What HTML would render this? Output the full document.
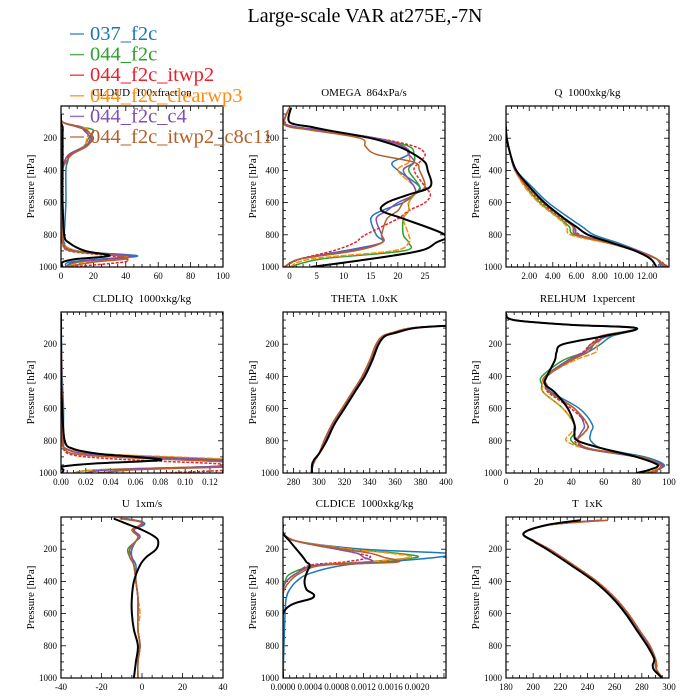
<!DOCTYPE html>
<html><head><meta charset="utf-8">
<style>
html,body{margin:0;padding:0;background:#fff;}
svg{display:block;font-family:"Liberation Serif",serif;}
text{white-space:pre;}
</style></head>
<body>
<svg id="chart" width="700" height="700" viewBox="0 0 700 700">
<text x="365" y="22" font-size="20" text-anchor="middle">Large-scale VAR at275E,-7N</text>
<g id="panels"></g>
<g id="legend"></g>
</svg>
<script>
const seriesNames=["037_f2c","044_f2c","044_f2c_itwp2","044_f2c_clearwp3","044_f2c_c4","044_f2c_itwp2_c8c11","obs"];
const seriesColors=["#1f77b4","#2ca02c","#e8222a","#ff8c10","#8050b0","#b5602a","#000000"];

// CLOUD
const cloudP=[50,100,130,150,200,250,300,350,400,600,800,850,900,930,950,970,1000];
const cloudBlue=[0,1,10,15,20,15,6,4,3,3,2,2,8,47,25,5,3];
const cloudGreen=[0,1,12,20,17,14,5,2,1,1,1,1,10,40,35,10,3];
const cloudRed=[0,1,11,16,18,15,6,3,1,1,1,1,5,30,40,38,5];
const cloudOrange=[0,1,13,17,16,14,5,2,1,1,1,1,10,40,38,15,3];
const cloudPurple=[0,1,12,14,18,15,5,2,1,1,1,1,8,43,30,8,3];
const cloudBrown=[0,1,10,16,19,16,7,3,1,1,1,1,6,35,40,20,3];
const cloudObs=[0,0,1,1,1,1,1,1,1,1,2,5,15,30,10,1,1];

// OMEGA
const omegaP=[10,100,130,150,200,250,300,350,400,500,550,600,650,700,800,850,900,950,1000];
const omegaBlue=[0,-1,1,6,16,21,22,19,20,24,23,21,17,15,16,17,10,2,-1];
const omegaGreen=[0,-1,1,6,16,22,23,23,22,24,23,22,22,21,21,22,21,6,0];
const omegaRed=[0,-1,1,5,16,23,25,24,23,25,26,25,22,20,14,12,8,2,-1];
const omegaOrange=[0,-1,0,5,15,21,22,22,20,23,23,22,22,21,22,22,19,4,0];
const omegaPurple=[0,-1,1,6,16,21,22,23,21,23,23,20,18,16,17,17,11,2,-1];
const omegaBrown=[0,-1,0,4,13,14,16,23,24,25,23,21,20,18,17,17,12,2,-1];
const omegaObs=[0.3,0,4,7,15,20,23,25,25.5,26,22,18,17,21,28.7,27,24,15,4];

// Q
const qP=[10,100,200,300,400,500,600,700,750,800,850,900,950,1000];
const qBlue=[0,0,0.1,0.4,0.9,2.2,3.6,5.5,6.5,7.5,9.5,11.3,12.8,13.2];
const qGreen=[0,0,0.1,0.4,0.8,1.7,2.9,4.6,5.4,5.8,8.6,11.0,12.8,13.5];
const qRed=[0,0,0.1,0.4,0.8,1.8,3.1,4.8,5.8,6.3,8.8,11.0,12.8,13.8];
const qOrange=[0,0,0.1,0.4,0.8,1.6,2.8,4.5,5.2,5.5,8.5,11.2,12.8,13.5];
const qPurple=[0,0,0.1,0.4,0.8,1.9,3.2,4.9,5.8,6.2,9.0,11.3,12.8,13.4];
const qBrown=[0,0,0.1,0.4,0.85,1.9,3.2,4.9,5.7,6.0,8.8,11.1,12.8,13.6];
const qObs=[0,0,0.1,0.4,0.9,2.0,3.3,5.0,6.0,7.0,9.0,11.0,12.3,12.8];

// CLDLIQ
const liqP=[10,400,600,800,850,880,900,920,940,960,980,1000];
const liqBlue=[0,0.001,0.002,0.002,0.004,0.02,0.06,0.12,0.15,0.13,0.04,0.02];
const liqGreen=[0,0.0005,0.001,0.002,0.004,0.025,0.08,0.14,0.15,0.12,0.03,0.01];
const liqRed=[0,0.0005,0.001,0.001,0.002,0.006,0.02,0.06,0.12,0.15,0.14,0.08];
const liqOrange=[0,0.0005,0.001,0.002,0.005,0.03,0.09,0.15,0.15,0.12,0.03,0.01];
const liqPurple=[0,0.0005,0.001,0.002,0.004,0.02,0.07,0.13,0.15,0.12,0.04,0.02];
const liqBrown=[0,0.0005,0.001,0.001,0.003,0.01,0.04,0.1,0.15,0.14,0.06,0.03];
const liqObs=[0,0,0.001,0.003,0.01,0.03,0.06,0.08,0.03,0.001,0.002,0.001];

// THETA
const thetaP=[85,100,130,150,200,300,400,500,600,700,800,880,920,950,1000];
const thetaBlue=[400,373,358,351,346,341,335,327,319,311,305,300,296,295,294];
const thetaGreen=[400,373,358,351,345,340,334,327,319,311,305,300,296,295,294];
const thetaRed=[400,372,357,350,345,340,334,326,318,310,304,300,297,295.5,294];
const thetaOrange=[400,373,358,351,345,340,334,326,319,311,305,300,296,295,294];
const thetaPurple=[400,373,358,351,346,341,335,327,319,311,305,300,296,295,294];
const thetaBrown=[400,372,357,350,345,340,334,326,318,310,304,300,297,295.5,294];
const thetaObs=[400,375,360,352,347,342,336,328,320,312,306,300,296,294.5,294.5];

// RELHUM
const rhP=[10,50,80,100,150,200,250,300,400,450,500,600,700,750,800,850,900,950,980,1000];
const rhBlue=[0,5,40,80,65,58,50,40,25,24,28,45,53,52,52,60,85,97,92,85];
const rhGreen=[0,5,40,80,63,52,48,35,22,22,23,35,42,42,40,50,80,96,92,85];
const rhRed=[0,5,40,80,60,52,47,38,24,24,26,40,50,48,42,52,82,95,94,90];
const rhOrange=[0,5,40,80,62,56,55,42,24,23,23,35,42,40,37,50,82,95,92,85];
const rhPurple=[0,5,40,80,62,54,48,38,24,24,27,42,48,46,44,50,80,96,93,88];
const rhBrown=[0,5,40,80,58,54,50,40,24,25,27,42,50,48,44,52,82,94,93,88];
const rhObs=[0,5,40,80,60,35,31,30,25,24,30,38,42,42,44,60,80,93,88,80];

// U
const uP=[10,30,50,80,120,150,200,250,300,400,500,600,700,800,900,1000];
const uBlue=[-8,0,1,-4,-2,-3,-5,-5,-3,-3,-2,-2,-2,-1,-2,-2];
const uGreen=[-9,0,0,-4,-1,-3,-7,-6,-4,-3,-2,-2,-2,-1,-2,-2];
const uRed=[-10,0,0,-4,-1,-3,-6,-5,-4,-3,-2,-2,-2,-1,-2,-2];
const uOrange=[-10,-1,0,-5,-2,-3,-6,-6,-4,-3,-2,-1,-2,-1,-2,-2];
const uPurple=[-9,0,0,-4,-1,-3,-6,-5,-4,-3,-2,-2,-2,-1,-2,-2];
const uBrown=[-11,-1,-1,-5,-2,-3,-6,-6,-4,-3,-2,-2,-2,-1,-2,-2];
const uObs=[-14,-10,-6,0,6,8,7,2,-1,-4,-5,-5,-4,-2,-3,-4];

// CLDICE
const iceP=[50,100,150,200,225,250,280,300,350,400,450,500,600,1000];
const iceBlue=[0,0,0.0002,0.0012,0.00245,0.0023,0.0015,0.0009,0.0004,0.0002,0.0001,0.00005,0.00003,0];
const iceGreen=[0,0,0.0002,0.0010,0.0017,0.0020,0.0012,0.0005,0.00012,0.00003,0,0,0,0];
const iceRed=[0,0,0.0002,0.0008,0.0011,0.0013,0.0009,0.0004,0.0002,0.00005,0,0,0,0];
const iceOrange=[0,0,0.0002,0.0010,0.0016,0.0019,0.0012,0.0005,0.0002,0.00005,0,0,0,0];
const icePurple=[0,0,0.0002,0.0008,0.0011,0.0012,0.0013,0.0005,0.0002,0.00005,0,0,0,0];
const iceBrown=[0,0,0.0002,0.0009,0.0013,0.0015,0.0017,0.0006,0.00025,0.0001,0.00002,0,0,0];
const iceObs=[0,0,0.0001,0.0002,0.00025,0.0003,0.00035,0.0004,0.00035,0.00032,0.00035,0.00045,0,0];

// T
const tP=[20,50,100,150,200,300,400,500,600,700,800,880,920,950,1000];
const tBlue=[250,211,193,201,211,229,246,259,269,277,285,290,290,291,295];
const tGreen=[250,211,193,201,211,229,246,259,269,277,285,290,290,291,295];
const tRed=[255,211,193,201,212,230,247,260,270,278,286,290,291,291,295];
const tOrange=[250,211,193,201,211,229,246,259,269,277,285,290,290,291,295];
const tPurple=[250,211,193,201,211,229,246,259,269,277,285,290,290,291,295];
const tBrown=[255,211,193,201,212,230,247,260,270,278,286,290,291,291,295];
const tObs=[235,210,193,200,210,228,245,258,268,276,284,289,288,289,295];

const cloudTicks=[0,20,40,60,80,100];
const omegaTicks=[0,5,10,15,20,25];
const qTicks=[2,4,6,8,10,12];
const liqTicks=[0,0.02,0.04,0.06,0.08,0.10,0.12];
const thetaTicks=[280,300,320,340,360,380,400];
const rhTicks=[0,20,40,60,80,100];
const uTicks=[-40,-20,0,20,40];
const iceTicks=[0,0.0004,0.0008,0.0012,0.0016,0.0020];
const tTicks=[180,200,220,240,260,280,300];
const pTicks=[200,400,600,800,1000];

const panels=[
 {name:"cloud",title:"CLOUD  100xfraction",x0:61,x1:223,y0:106,y1:267,xmin:0,xmax:100,ticks:cloudTicks,fmt:v=>v,p:cloudP,s:[cloudBlue,cloudGreen,cloudRed,cloudOrange,cloudPurple,cloudBrown,cloudObs]},
 {name:"omega",title:"OMEGA  864xPa/s",x0:283,x1:445,y0:106,y1:267,xmin:-1.2,xmax:28.7,ticks:omegaTicks,fmt:v=>v,p:omegaP,s:[omegaBlue,omegaGreen,omegaRed,omegaOrange,omegaPurple,omegaBrown,omegaObs]},
 {name:"q",title:"Q  1000xkg/kg",x0:506,x1:669,y0:106,y1:267,xmin:0.03,xmax:13.86,ticks:qTicks,fmt:v=>v.toFixed(2),p:qP,s:[qBlue,qGreen,qRed,qOrange,qPurple,qBrown,qObs]},
 {name:"cldliq",title:"CLDLIQ  1000xkg/kg",x0:61,x1:223,y0:312,y1:473,xmin:0,xmax:0.1305,ticks:liqTicks,fmt:v=>v.toFixed(2),p:liqP,s:[liqBlue,liqGreen,liqRed,liqOrange,liqPurple,liqBrown,liqObs]},
 {name:"theta",title:"THETA  1.0xK",x0:283,x1:446,y0:312,y1:473,xmin:271.7,xmax:400,ticks:thetaTicks,fmt:v=>v,p:thetaP,s:[thetaBlue,thetaGreen,thetaRed,thetaOrange,thetaPurple,thetaBrown,thetaObs]},
 {name:"relhum",title:"RELHUM  1xpercent",x0:506,x1:669,y0:312,y1:473,xmin:0,xmax:100,ticks:rhTicks,fmt:v=>v,p:rhP,s:[rhBlue,rhGreen,rhRed,rhOrange,rhPurple,rhBrown,rhObs]},
 {name:"u",title:"U  1xm/s",x0:61,x1:223,y0:517,y1:678,xmin:-40,xmax:40,ticks:uTicks,fmt:v=>v,p:uP,s:[uBlue,uGreen,uRed,uOrange,uPurple,uBrown,uObs]},
 {name:"cldice",title:"CLDICE  1000xkg/kg",x0:283,x1:446,y0:517,y1:678,xmin:0,xmax:0.00243,ticks:iceTicks,fmt:v=>v.toFixed(4),p:iceP,s:[iceBlue,iceGreen,iceRed,iceOrange,icePurple,iceBrown,iceObs]},
 {name:"t",title:"T  1xK",x0:506,x1:669,y0:517,y1:678,xmin:180,xmax:300,ticks:tTicks,fmt:v=>v,p:tP,s:[tBlue,tGreen,tRed,tOrange,tPurple,tBrown,tObs]}
];

const NS="http://www.w3.org/2000/svg";
function mk(tag,attrs,parent){const e=document.createElementNS(NS,tag);for(const k in attrs)e.setAttribute(k,attrs[k]);parent.appendChild(e);return e;}
function smoothPath(pts){
  let d="M"+pts[0][0].toFixed(1)+","+pts[0][1].toFixed(1);
  for(let i=0;i<pts.length-1;i++){
    const p0=pts[Math.max(0,i-1)],p1=pts[i],p2=pts[i+1],p3=pts[Math.min(pts.length-1,i+2)];
    const c1x=p1[0]+(p2[0]-p0[0])/6,c1y=p1[1]+(p2[1]-p0[1])/6;
    const c2x=p2[0]-(p3[0]-p1[0])/6,c2y=p2[1]-(p3[1]-p1[1])/6;
    d+="C"+c1x.toFixed(1)+","+c1y.toFixed(1)+" "+c2x.toFixed(1)+","+c2y.toFixed(1)+" "+p2[0].toFixed(1)+","+p2[1].toFixed(1);
  }
  return d;
}
const root=document.getElementById("panels");
panels.forEach(pn=>{
  const g=mk("g",{},root);
  
  
  const xs=v=>pn.x0+(v-pn.xmin)/(pn.xmax-pn.xmin)*(pn.x1-pn.x0);
  const ys=p=>pn.y0+(p-0)/(1000-0)*(pn.y1-pn.y0);
  const cid="clip-"+pn.name;
  const cp=mk("clipPath",{id:cid},g);
  mk("rect",{x:pn.x0,y:pn.y0,width:pn.x1-pn.x0,height:pn.y1-pn.y0},cp);
  const title=mk("text",{x:(pn.x0+pn.x1)/2,y:pn.y0-10,"font-size":11,"text-anchor":"middle"},g);
  title.textContent=pn.title;
  
  
  const yl=mk("text",{x:0,y:0,"font-size":11,"text-anchor":"middle",transform:`translate(${pn.x0-27},${(pn.y0+pn.y1)/2}) rotate(-90)`},g);
  yl.textContent="Pressure [hPa]";
  
  
  for(let p=50;p<1000;p+=50){const y=ys(p);const L=(p%200===0)?5:3;
    mk("line",{x1:pn.x0,x2:pn.x0+L,y1:y,y2:y,stroke:"#000","stroke-width":0.8},g);
    mk("line",{x1:pn.x1,x2:pn.x1-L,y1:y,y2:y,stroke:"#000","stroke-width":0.8},g);}
  pTicks.forEach(p=>{const t=mk("text",{x:pn.x0-4,y:ys(p)+3,"font-size":9,"text-anchor":"end"},g);t.textContent=p;
    
    });
  const step=pn.ticks[1]-pn.ticks[0];
  for(let v=pn.ticks[0]-step*2;v<=pn.xmax+1e-12;v+=step/4){if(v<pn.xmin)continue;const x=xs(v);
    const major=Math.abs(((v-pn.ticks[0])/step)-Math.round((v-pn.ticks[0])/step))<1e-6;const L=major?5:3;
    mk("line",{x1:x,x2:x,y1:pn.y1,y2:pn.y1-L,stroke:"#000","stroke-width":0.8},g);
    mk("line",{x1:x,x2:x,y1:pn.y0,y2:pn.y0+L,stroke:"#000","stroke-width":0.8},g);}
  pn.ticks.forEach(v=>{const t=mk("text",{x:xs(v),y:pn.y1+12,"font-size":9,"text-anchor":"middle"},g);t.textContent=pn.fmt(v);
    
    });
  const lg=mk("g",{"clip-path":`url(#${cid})`},g);
  pn.s.forEach((vals,i)=>{
    const pts=vals.map((v,k)=>[xs(v),ys(pn.p[k])]);
    const attrs={d:smoothPath(pts),fill:"none",stroke:seriesColors[i],"stroke-width":i===6?2:1.5,"stroke-linejoin":"round"};
    if(i===2)attrs["stroke-dasharray"]="3,1.5";
    if(i===3)attrs["stroke-dasharray"]="6,1.5";
    const path=mk("path",attrs,lg);
    
    
  });
  const fr=mk("rect",{x:pn.x0,y:pn.y0,width:pn.x1-pn.x0,height:pn.y1-pn.y0,fill:"none",stroke:"#000","stroke-width":1.2},g);
  
  
});
const leg=document.getElementById("legend");
for(let i=0;i<6;i++){
  const y=40+i*20.6;
  const l=mk("line",{x1:70,x2:84,y1:y-6,y2:y-6,stroke:seriesColors[i],"stroke-width":1.5,opacity:0.8},leg);
  
  
  const t=mk("text",{x:90,y:y,"font-size":20.5,fill:seriesColors[i]},leg);
  t.textContent=seriesNames[i];
  
  
}
</script>
</body></html>
